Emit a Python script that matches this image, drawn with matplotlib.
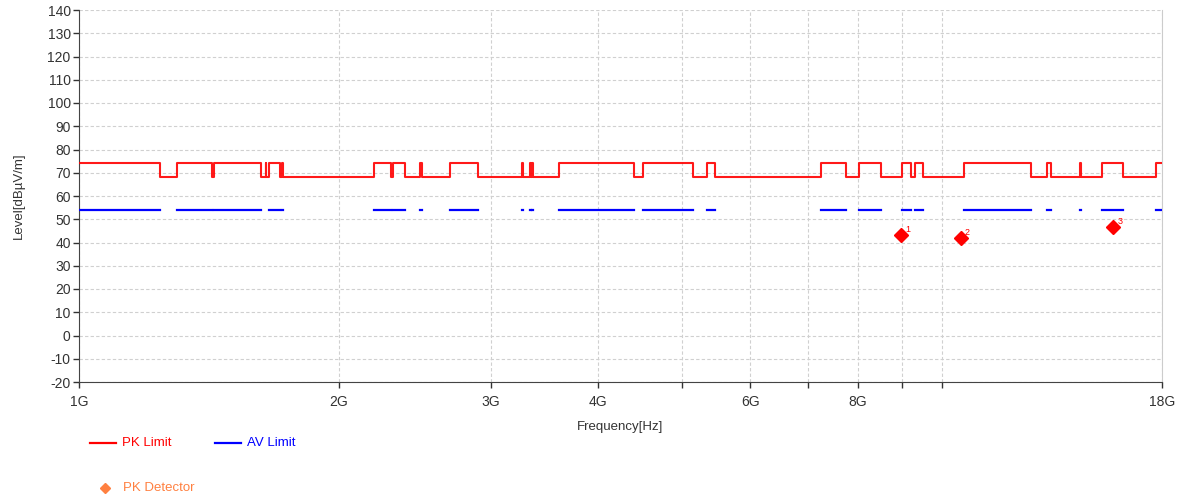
import numpy as np
import matplotlib
matplotlib.use("Agg")
from matplotlib import pyplot as plt
from matplotlib.lines import Line2D

plt.rcParams['font.family'] = ['Liberation Sans', 'DejaVu Sans']
plt.rcParams['axes.unicode_minus'] = False

# restricted bands [GHz] -> 74 dBuV/m PK, 54 dBuV/m AV; outside -> 68 dBuV/m PK
band_lo = [0.96, 1.300, 1.435, 1.6455, 1.660, 1.7188, 2.200, 2.310, 2.4835, 2.690,
           3.260, 3.332, 3.3458, 3.600, 4.500, 5.350, 7.250, 8.025, 9.000, 9.300,
           10.600, 13.250, 14.470, 15.350, 17.700]
band_hi = [1.240, 1.427, 1.6265, 1.6465, 1.710, 1.7222, 2.300, 2.390, 2.500, 2.900,
           3.267, 3.339, 3.358, 4.400, 5.150, 5.460, 7.750, 8.500, 9.200, 9.500,
           12.700, 13.400, 14.500, 16.200, 21.400]
pk_in, pk_out, av_in = 74, 68, 54

# peak detector readings
mk_freq = [8.98, 10.52, 15.80]
mk_level = [43.2, 42.1, 46.8]
mk_label = ["1", "2", "3"]

xticks = [1, 2, 3, 4, 5, 6, 7, 8, 9, 10, 18]
xlabels = ["1G", "2G", "3G", "4G", "", "6G", "", "8G", "", "", "18G"]

RED = "#ff0000"
BLUE = "#0000ff"
ORANGE = "#ff8040"
TXT = "#333333"

fig = plt.figure(figsize=(11.82, 5.01), dpi=100)
ax = fig.add_axes([79/1182, 119/501, (1162-79)/1182, 372/501])

# build PK limit step path
xs, ys = [], []
for lo, hi in zip(band_lo, band_hi):
    xs += [lo, hi]
    ys += [pk_in, pk_out]
ax.step(xs, ys, where='post', color=RED, lw=1.5, alpha=0.9, zorder=3)

# AV limit only inside restricted bands
ax.hlines([av_in] * len(band_lo), band_lo, band_hi, color=BLUE, lw=1.6,
          capstyle='projecting', zorder=3)

ax.plot(mk_freq, mk_level, 'D', color=RED, ms=7, ls='none', zorder=4)
for f, l, t in zip(mk_freq, mk_level, mk_label):
    ax.annotate(t, (f, l), xytext=(3, 2), textcoords='offset points',
                color=RED, fontsize=6.5)

ax.set_xscale('log')
ax.set_xlim(1, 18)
ax.set_ylim(-20, 140)
ax.set_yticks(range(-20, 141, 10))
ax.set_xticks(xticks)
ax.set_xticklabels(xlabels)
ax.xaxis.set_minor_locator(matplotlib.ticker.NullLocator())
ax.tick_params(labelsize=10, colors=TXT, length=4, width=1)
ax.tick_params(axis='x', pad=5)
ax.tick_params(axis='y', pad=2)

ax.grid(True, ls=(0, (3, 2)), color='#d0d0d0', lw=0.8)
for s in ['left', 'bottom']:
    ax.spines[s].set_color('#444444')
ax.spines['right'].set_color('#cccccc')
ax.spines['top'].set_visible(False)

ax.set_ylabel("Level[dBµV/m]", fontsize=9.5, color=TXT, labelpad=16)
ax.set_xlabel("Frequency[Hz]", fontsize=9.5, color=TXT, labelpad=9)

# legend drawn by hand under the axes
def px(x, y):
    return x / 1182, 1 - y / 501

fig.add_artist(Line2D([px(90, 0)[0], px(116, 0)[0]], [px(0, 443)[1]] * 2, color=RED, lw=1.6))
fig.text(*px(122, 443), "PK Limit", color=RED, fontsize=9.5, va='center')
fig.add_artist(Line2D([px(215, 0)[0], px(241, 0)[0]], [px(0, 443)[1]] * 2, color=BLUE, lw=1.6))
fig.text(*px(247, 443), "AV Limit", color=BLUE, fontsize=9.5, va='center')
fig.add_artist(Line2D([px(105, 0)[0]], [px(0, 488)[1]], marker='D', color=ORANGE, ms=5, ls='none'))
fig.text(*px(123, 488), "PK Detector", color=ORANGE, fontsize=9.5, va='center')

fig.savefig("out.png", dpi=100)
